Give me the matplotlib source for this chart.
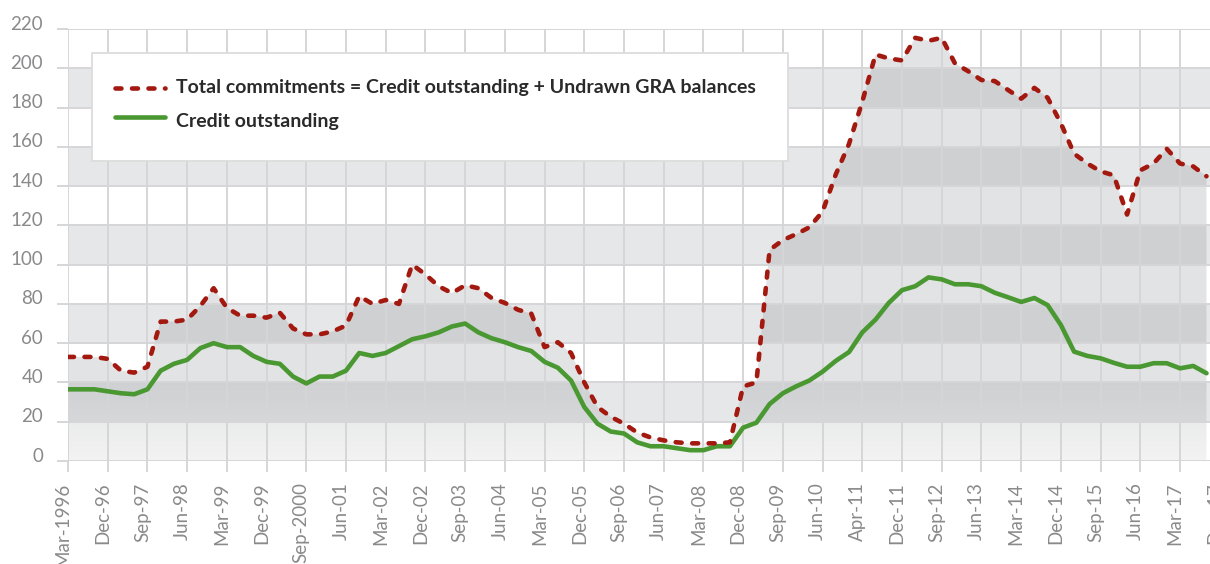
import numpy as np
import matplotlib
matplotlib.use("Agg")
import matplotlib.pyplot as plt
from matplotlib.patches import Rectangle
from matplotlib.lines import Line2D
from matplotlib.transforms import ScaledTranslation

# quarterly values, Mar-1996 onwards
total_commitments = [
    53, 53, 53, 52, 46, 45, 48, 71, 71, 72, 79,
    88, 78, 74, 74, 73, 75.5, 67.5, 64.5, 64.5, 66,
    69, 84, 80, 82, 80, 100, 95, 89, 85.5, 89.5,
    88, 83, 80.5, 77, 75, 58, 60.5, 55, 40, 27.5,
    22.5, 19, 14.5, 12, 10.5, 9.5, 9, 9, 9, 9.5,
    38, 40, 107.5, 112.5, 115.5, 119, 127, 146, 161.5, 183,
    207, 205, 204, 215.5, 214, 215.5, 202.5, 198.5, 194, 193.5,
    189, 184.5, 190, 185, 172, 156.5, 151.5, 147.5, 145.5, 125.5,
    148, 151.5, 159, 151.5, 150, 145,
]
credit_outstanding = [
    36.5, 36.5, 36.5, 35.5, 34.5, 34, 36.5, 46, 49.5, 51.5, 57.5,
    60, 58, 58, 53.5, 50.5, 49.5, 43, 39.5, 43, 43,
    46, 55, 53.5, 55, 58.5, 62, 63.5, 65.5, 68.5, 70,
    65.5, 62.5, 60.5, 58, 56, 50.5, 47.5, 41, 27.5, 19,
    15, 14, 9.5, 7.5, 7.5, 6.5, 5.5, 5.5, 7.5, 7.5,
    17, 19.5, 29, 34.5, 38, 41, 45.5, 51, 55.5, 65.5,
    72, 80.5, 87, 89, 93.5, 92.5, 90, 90, 89, 85.7,
    83.4, 81, 83, 79.4, 69.3, 55.7, 53.5, 52.3, 50, 48,
    48, 49.8, 49.8, 47.2, 48.4, 44.7,
]
# one label every third quarter
tick_labels = [
    "Mar-1996", "Dec-96", "Sep-97", "Jun-98", "Mar-99", "Dec-99", "Sep-2000",
    "Jun-01", "Mar-02", "Dec-02", "Sep-03", "Jun-04", "Mar-05", "Dec-05",
    "Sep-06", "Jun-07", "Mar-08", "Dec-08", "Sep-09", "Jun-10", "Apr-11",
    "Dec-11", "Sep-12", "Jun-13", "Mar-14", "Dec-14", "Sep-15", "Jun-16",
    "Mar-17", "Dec-17",
]
y_ticks = list(range(0, 221, 20))
band_starts = [20, 60, 100, 140, 180]

RED = "#a3190f"
GREEN = "#4a9832"
GRID = "#d6d6d8"
BAND = "#e6e7e9"
LABEL = "#8a8a8c"
DASH = (0, (1.3, 2.3))

plt.rcParams["font.family"] = ["Lato", "DejaVu Sans"]

W, H = 1210, 564
fig = plt.figure(figsize=(W / 100, H / 100), dpi=100)


def fx(px):
    return px / W


def fy(py):
    return 1 - py / H


# plot area: x index 0 at px 68, 13.238 px per quarter; y 0 at px 461, 220 at px 29
px_q = (1180 - 68) / 84
ax_right = 1232
ax = fig.add_axes([fx(68), fy(461), fx(ax_right - 68), (461 - 29) / H])
x = np.arange(len(total_commitments))

for b in band_starts:
    ax.axhspan(b, b + 20, color=BAND, zorder=0, lw=0)

# gradient-filled area under total commitments
poly = ax.fill_between(x, total_commitments, 0, facecolor="none", edgecolor="none")
gy = np.linspace(0, 220, 300)
alpha = 0.09 + 0.11 * np.clip(gy / 40, 0, 1)
grad = np.zeros((len(gy), 2, 4))
grad[..., 0] = 0.45
grad[..., 1] = 0.46
grad[..., 2] = 0.48
grad[..., 3] = alpha[:, None]
img = ax.imshow(grad, extent=[0, x[-1], 0, 220], origin="lower",
                aspect="auto", zorder=1, interpolation="bilinear")
img.set_clip_path(poly.get_paths()[0], transform=ax.transData)

ax.plot(x, credit_outstanding, color=GREEN, lw=3.3, solid_capstyle="round",
        solid_joinstyle="round", zorder=3)
ax.plot(x, total_commitments, color=RED, lw=3.3, linestyle=DASH,
        dash_capstyle="round", dash_joinstyle="round", zorder=4)

ax.set_xlim(0, (ax_right - 68) / px_q)
ax.set_ylim(0, 220)

ax.set_xticks(np.arange(len(tick_labels)) * 3)
ax.set_xticklabels(tick_labels, rotation=90, ha="center", va="top")
ax.set_yticks(y_ticks)
ax.set_yticklabels([str(v) for v in y_ticks])
ax.set_axisbelow("line")
ax.grid(True, color=GRID, lw=1.4)
ax.tick_params(axis="both", length=7.9, width=1.4, color=GRID,
               labelsize=13.5, labelcolor=LABEL)
ax.tick_params(axis="x", pad=7.5)
ax.tick_params(axis="y", pad=10)
for s in ax.spines.values():
    s.set_visible(False)

for lab in ax.get_xticklabels():
    lab.set_transform(lab.get_transform() + ScaledTranslation(-5 / 100, 0, fig.dpi_scale_trans))
for lab in ax.get_yticklabels():
    lab.set_transform(lab.get_transform() + ScaledTranslation(0, 6.5 / 100, fig.dpi_scale_trans))

# legend box
fig.add_artist(Rectangle((fx(92), fy(161)), fx(788 - 92), (161 - 53) / H,
                         transform=fig.transFigure, facecolor="white",
                         edgecolor="#dcdcdc", lw=1.3, zorder=10))
fig.add_artist(Line2D([fx(115), fx(165)], [fy(88), fy(88)], color=RED, lw=3.3,
                      linestyle=DASH, dash_capstyle="round", zorder=11))
fig.add_artist(Line2D([fx(115), fx(165)], [fy(117), fy(117)], color=GREEN, lw=3.3,
                      solid_capstyle="round", zorder=11))
fig.text(fx(176), fy(87), "Total commitments = Credit outstanding + Undrawn GRA balances",
         fontsize=14, fontweight="bold", color="#2a2a2a", va="center", zorder=12)
fig.text(fx(176), fy(122), "Credit outstanding",
         fontsize=14, fontweight="bold", color="#2a2a2a", va="center", zorder=12)

fig.savefig("out.png", dpi=100)
